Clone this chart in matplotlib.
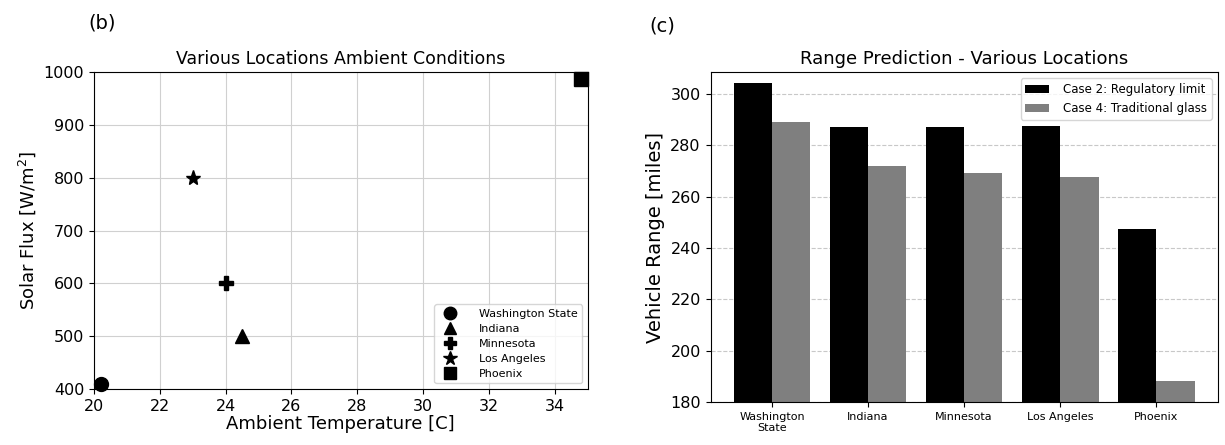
import numpy as np
import matplotlib.pyplot as plt

locations = ["Washington State", "Indiana", "Minnesota", "Los Angeles", "Phoenix"]
bar_labels = ["Washington\nState", "Indiana", "Minnesota", "Los Angeles", "Phoenix"]
markers = ["o", "^", "P", "*", "s"]

ambient_temp = [20.2, 24.5, 24.0, 23.0, 34.8]
solar_flux = [410, 500, 600, 800, 986]

range_case2 = [304.5, 287.1, 287.1, 287.5, 247.4]
range_case4 = [289.0, 271.9, 269.2, 267.5, 188.2]

fig = plt.figure(figsize=(12.25, 4.45), dpi=100)

# ambient conditions scatter
ax1 = fig.add_axes([0.0767, 0.126, 0.403, 0.712])
for t, q, m, name in zip(ambient_temp, solar_flux, markers, locations):
    ax1.plot(t, q, linestyle="none", marker=m, color="black",
             markersize=11 if m == "*" else 10, label=name, clip_on=False)
ax1.set_xlim(20, 35)
ax1.set_ylim(400, 1000)
ax1.set_xticks(np.arange(20, 35, 2))
ax1.grid(True, color="#d0d0d0")
ax1.set_axisbelow(True)
ax1.tick_params(labelsize=11.5)
ax1.set_xlabel("Ambient Temperature [C]", fontsize=13, labelpad=1)
ax1.set_ylabel("Solar Flux [W/m$^2$]", fontsize=13)
ax1.set_title("Various Locations Ambient Conditions", fontsize=12.5)
ax1.legend(loc="lower right", fontsize=8, markerscale=0.9, handletextpad=1.6,
           labelspacing=0.45)
fig.text(0.072, 0.935, "(b)", fontsize=14)

# range prediction bars
ax2 = fig.add_axes([0.580, 0.0966, 0.414, 0.741])
x = np.arange(len(bar_labels))
ax2.bar(x, np.array(range_case2) - 180, bottom=180, width=-0.4, align="edge",
        color="black", label="Case 2: Regulatory limit")
ax2.bar(x, np.array(range_case4) - 180, bottom=180, width=0.4, align="edge",
        color="#7f7f7f", label="Case 4: Traditional glass")
ax2.set_ylim(180, 308.5)
ax2.set_xticks(x)
ax2.set_xticklabels(bar_labels, fontsize=8)
ax2.tick_params(axis="y", labelsize=11.5)
ax2.yaxis.grid(True, linestyle="--", color="#c8c8c8")
ax2.set_axisbelow(True)
ax2.set_ylabel("Vehicle Range [miles]", fontsize=14)
ax2.set_title("Range Prediction - Various Locations", fontsize=13)
ax2.legend(loc="upper right", fontsize=8.5, handletextpad=1.2)
fig.text(0.530, 0.93, "(c)", fontsize=14)

fig.savefig("out.png", dpi=100)
